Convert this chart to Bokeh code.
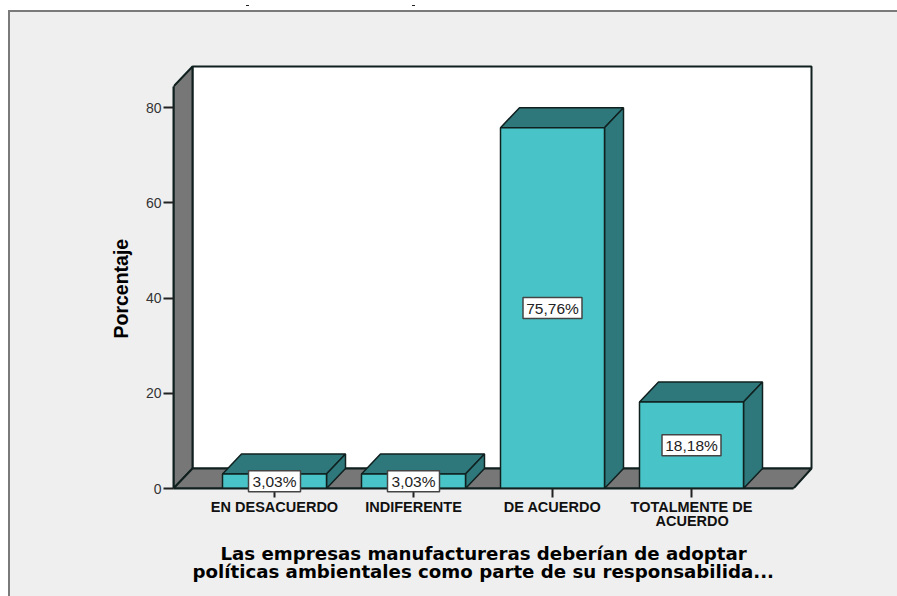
from bokeh.embed import file_html
from bokeh.resources import INLINE
from bokeh.plotting import figure
from bokeh.models import FixedTicker, Range1d, ColumnDataSource, Title
from bokeh.core.properties import value

categories = ["EN DESACUERDO", "INDIFERENTE", "DE ACUERDO", "TOTALMENTE DE\nACUERDO"]
percentages = [3.03, 3.03, 75.76, 18.18]
value_labels = ["3,03%", "3,03%", "75,76%", "18,18%"]
y_ticks = [0, 20, 40, 60, 80]
x_title_lines = ["Las empresas manufactureras deberían de adoptar",
                 "políticas ambientales como parte de su responsabilida..."]
y_title = "Porcentaje"

# pixel geometry of the 3D box
W, H = 897, 596
PX_X, PX_Y = 139.0, 4.7625
DX, DY = 19 / PX_X, 20 / PX_Y
X0, XF, XR = -101 / PX_X, 519 / PX_X, 537 / PX_X
TOP = 422 / PX_Y
BAR = 104 / PX_X

FRONT, SHADE, GREY, EDGE = "#48C4C8", "#2E787C", "#777777", "#10201F"
LINE = "#7A7A7A"

p = figure(width=W, height=H, output_backend="svg", toolbar_location=None,
           x_range=Range1d(X0, 540 / PX_X), y_range=Range1d(0, 425 / PX_Y),
           min_border_left=173, min_border_right=83, min_border_top=63, min_border_bottom=108)
p.grid.visible = False
p.outline_line_color = None
p.background_fill_color = None
p.border_fill_color = None
p.styles = {"background":
            "linear-gradient(#222,#222) 246px 5px/3px 1px no-repeat,"
            "linear-gradient(#222,#222) 412px 5px/3px 1px no-repeat,"
            f"linear-gradient({LINE},{LINE}) 8px 10px/100% 2px no-repeat,"
            f"linear-gradient({LINE},{LINE}) 8px 10px/2px 100% no-repeat,"
            "linear-gradient(#EFEFEF,#EFEFEF) 8px 10px/100% 100% no-repeat"}

# walls and floor
p.patch([X0 + DX, XR, XR, X0 + DX], [DY, DY, TOP, TOP], fill_color="white", line_color=EDGE, line_width=2)
p.patch([X0, X0 + DX, X0 + DX, X0], [0, DY, TOP, TOP - DY], fill_color=GREY, line_color=EDGE, line_width=2)
p.patch([X0, XF, XR, X0 + DX], [0, 0, DY, DY], fill_color=GREY, line_color=EDGE, line_width=2)

# bars
xs = list(range(len(percentages)))
half = BAR / 2
p.patches([[x - half, x + half, x + half + DX, x - half + DX] for x in xs],
          [[v, v, v + DY, v + DY] for v in percentages],
          fill_color=SHADE, line_color=EDGE, line_width=1.5)
p.patches([[x + half, x + half + DX, x + half + DX, x + half] for x in xs],
          [[0, DY, v + DY, v] for v in percentages],
          fill_color=SHADE, line_color=EDGE, line_width=1.5)
p.vbar(x=xs, top=percentages, bottom=0, width=BAR, fill_color=FRONT, line_color=EDGE, line_width=1.5)

# value labels
src = ColumnDataSource(dict(x=xs, y=[v / 2 for v in percentages], t=value_labels,
                            w=[17 + 7 * len(t) for t in value_labels]))
p.rect("x", "y", source=src, width="w", height=21, width_units="screen", height_units="screen",
       fill_color="white", line_color="#444444", line_width=1.5, level="overlay")
p.text("x", "y", text="t", source=src, text_align="center", text_baseline="middle",
       text_font=value("Liberation Sans"), text_font_size="15.5px", text_color="#222222", level="overlay")

# axes
ax = p.xaxis[0]
ax.ticker = FixedTicker(ticks=xs)
ax.major_label_overrides = {i: c.split("\n")[0] for i, c in enumerate(categories)}
ax.bounds = (X0, XF)
ax.axis_line_color = EDGE
ax.axis_line_width = 2
ax.major_tick_out = 9
ax.major_tick_in = 0
ax.major_tick_line_color = "#222222"
ax.major_tick_line_width = 2
ax.minor_tick_line_color = None
ax.major_label_standoff = 1
ax.major_label_text_font = "Liberation Sans"
ax.major_label_text_font_style = "bold"
ax.major_label_text_font_size = "14.5px"
ax.major_label_text_color = "#111111"

ay = p.yaxis[0]
ay.ticker = FixedTicker(ticks=y_ticks)
ay.bounds = (0, TOP - DY)
ay.axis_line_color = EDGE
ay.axis_line_width = 2
ay.major_tick_out = 10
ay.major_tick_in = 0
ay.major_tick_line_color = "#222222"
ay.major_tick_line_width = 2
ay.minor_tick_line_color = None
ay.major_label_standoff = 2
ay.major_label_text_font = "Liberation Sans"
ay.major_label_text_font_size = "14px"
ay.major_label_text_color = "#333333"

# wrapped tick line and axis titles, placed in the side panels (text outside the frame)
p.add_layout(Title(text=categories[3].split("\n")[1], align="left", offset=692 - 173 - 37, standoff=-14,
                   text_font="Liberation Sans", text_font_style="bold", text_font_size="14.5px",
                   text_color="#111111"), "below")
p.add_layout(Title(text=x_title_lines[0], align="left", offset=47, standoff=38,
                   text_font="DejaVu Sans", text_font_style="bold", text_font_size="18.2px",
                   text_color="#000000"), "below")
p.add_layout(Title(text=x_title_lines[1], align="left", offset=19, standoff=-44, vertical_align="top",
                   text_font="DejaVu Sans", text_font_style="bold", text_font_size="18.2px",
                   text_color="#000000"), "below")
p.add_layout(Title(text=y_title, align="left", offset=150, standoff=22,
                   text_font="Liberation Sans", text_font_style="bold", text_font_size="19.5px",
                   text_color="#000000"), "left")

open("out.html", "w").write(file_html(p, INLINE))
